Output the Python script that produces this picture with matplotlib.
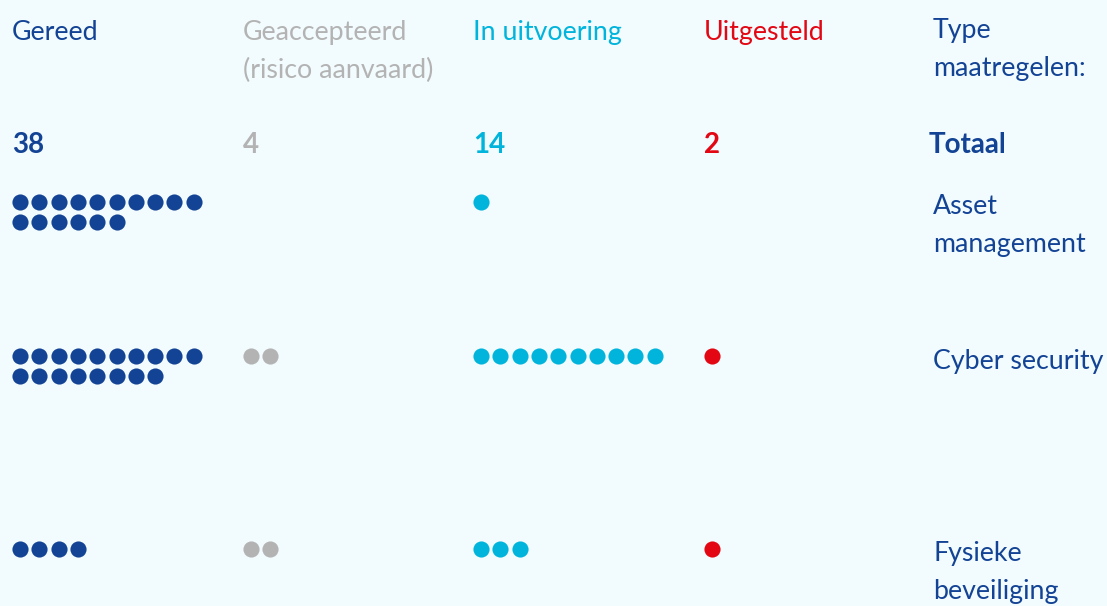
import numpy as np
import matplotlib.pyplot as plt

plt.rcParams['font.family'] = ['Lato', 'DejaVu Sans']

# Statussen en aantallen maatregelen per type
statussen = ["Gereed", "Geaccepteerd\n(risico aanvaard)", "In uitvoering", "Uitgesteld"]
kleuren = ["#134395", "#b3b3b3", "#00b4dc", "#e30613"]
types = ["Asset\nmanagement", "Cyber security", "Fysieke\nbeveiliging"]
asset = [16, 0, 1, 0]
cyber = [18, 2, 10, 1]
fysiek = [4, 2, 3, 1]
totalen = [sum(v) for v in zip(asset, cyber, fysiek)]

bg = "#f2fbfd"
fig = plt.figure(figsize=(11.07, 6.06), dpi=100, facecolor=bg)
ax = fig.add_axes([0, 0, 1, 1])
ax.set_facecolor(bg)
ax.set_xlim(0, 1107)
ax.set_ylim(606, 0)
ax.axis("off")

col_x = [12, 243, 473, 704]
type_x = 933
row_y = [202, 356, 549]
step = 19.3
per_row = 10
ls = 1.66

# headers
for x, s, c in zip(col_x, statussen, kleuren):
    ax.text(x, 20, s, color=c, fontsize=19.3, va="top", ha="left", linespacing=ls)
ax.text(type_x, 18, "Type\nmaatregelen:", color=kleuren[0], fontsize=19.3,
        va="top", ha="left", linespacing=ls)

# totalen
for x, t, c in zip(col_x, totalen, kleuren):
    ax.text(x, 145, str(t), color=c, fontsize=20, fontweight="bold", va="center", ha="left")
ax.text(type_x - 4, 145, "Totaal", color=kleuren[0], fontsize=20, fontweight="bold",
        va="center", ha="left")

# stippen
for y0, counts, label in zip(row_y, [asset, cyber, fysiek], types):
    for x0, n, c in zip(col_x, counts, kleuren):
        if n == 0:
            continue
        idx = np.arange(n)
        xs = x0 + 8 + (idx % per_row) * step
        ys = y0 + (idx // per_row) * 20
        ax.scatter(xs, ys, s=135, color=c, linewidths=0, zorder=3)
    multi = "\n" in label
    ax.text(type_x, y0 - 8 if multi else y0 + 5, label, color=kleuren[0],
            fontsize=19.3, va="top" if multi else "center", ha="left",
            linespacing=ls)

fig.savefig("out.png", dpi=100, facecolor=bg)
